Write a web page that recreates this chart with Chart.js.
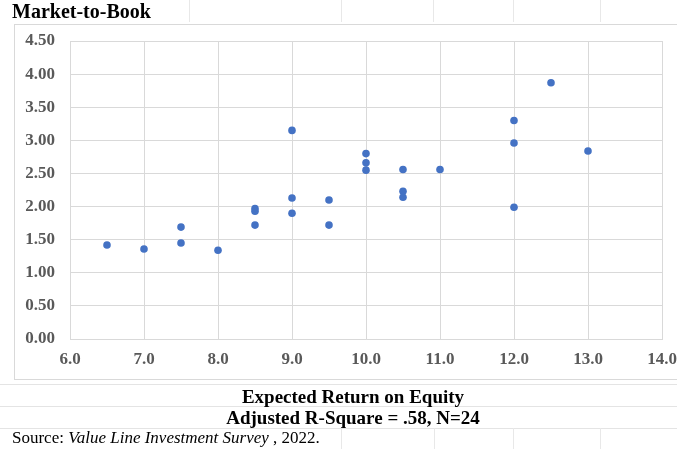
<!DOCTYPE html>
<html>
<head>
<meta charset="utf-8">
<script src="https://cdn.jsdelivr.net/npm/chart.js@4/dist/chart.umd.min.js"></script>
<style>
  body { margin: 0; background: #fff; width: 677px; height: 449px; overflow: hidden; position: relative; font-family: "Liberation Serif", serif; }
  .txt { position: absolute; white-space: nowrap; color: #000; }
  .hl { position: absolute; height: 1px; background: #e4e4e4; }
  .vl { position: absolute; width: 1px; background: #e8e8e8; }
  #box { position: absolute; left: 14px; top: 24px; width: 680px; height: 354px; border: 1px solid #d9d9d9; }
  #c { position: absolute; left: 0; top: 0; }
</style>
</head>
<body>
<!-- faint spreadsheet cell lines -->
<div class="vl" style="left:189px;top:0;height:22px"></div>
<div class="vl" style="left:341px;top:0;height:22px"></div>
<div class="vl" style="left:433px;top:0;height:22px"></div>
<div class="vl" style="left:513px;top:0;height:22px"></div>
<div class="vl" style="left:600px;top:0;height:22px"></div>
<div class="hl" style="left:0;top:384px;width:677px"></div>
<div class="hl" style="left:0;top:406px;width:677px"></div>
<div class="hl" style="left:0;top:428px;width:677px"></div>
<div class="vl" style="left:341px;top:428px;height:21px"></div>
<div class="vl" style="left:434px;top:428px;height:21px"></div>
<div class="vl" style="left:513px;top:428px;height:21px"></div>
<div class="vl" style="left:600px;top:428px;height:21px"></div>

<div id="box"></div>
<canvas id="c" width="677" height="449"></canvas>

<div class="txt" style="left:12px;top:0px;font-size:20px;font-weight:bold;">Market-to-Book</div>
<div class="txt" style="left:0;width:706px;text-align:center;top:386px;font-size:19px;font-weight:bold;">Expected Return on Equity</div>
<div class="txt" style="left:0;width:706px;text-align:center;top:407px;font-size:19px;font-weight:bold;">Adjusted R-Square = .58, N=24</div>
<div class="txt" style="left:12px;top:428px;font-size:17px;">Source: <i>Value Line Investment Survey</i> , 2022.</div>

<script>
// expected return on equity (x) vs market-to-book (y)
const roe = [6.5, 7.0, 7.5, 7.5, 8.0, 8.5, 8.5, 8.5, 9.0, 9.0, 9.0, 9.5, 9.5,
             10.0, 10.0, 10.0, 10.5, 10.5, 10.5, 11.0, 12.0, 12.0, 12.0, 12.5, 13.0];
const mtb = [1.42, 1.36, 1.69, 1.45, 1.34, 1.97, 1.93, 1.72, 3.15, 2.13, 1.90, 2.10, 1.72,
             2.80, 2.66, 2.55, 2.56, 2.23, 2.14, 2.56, 3.30, 2.96, 1.99, 3.87, 2.84];

const xMin = 6, xMax = 14, xStep = 1;
const yMin = 0, yMax = 4.5, yStep = 0.5;

let points = roe.map((x, i) => ({x: x, y: mtb[i]}));

const tickFont = {family: "Liberation Serif", size: 17, weight: "bold"};
const gridColor = "#d9d9d9";

new Chart(document.getElementById("c"), {
  type: "scatter",
  data: {
    datasets: [{
      data: points,
      backgroundColor: "#4472C4",
      borderColor: "#4472C4",
      pointRadius: 3.8,
      pointBorderWidth: 0
    }]
  },
  options: {
    responsive: false,
    animation: false,
    layout: {padding: {top: 41, right: 15, left: 0, bottom: 0}},
    plugins: {legend: {display: false}, tooltip: {enabled: false}},
    scales: {
      x: {
        min: xMin, max: xMax,
        ticks: {stepSize: xStep, font: tickFont, color: "#595959", padding: 10,
                maxRotation: 0, callback: v => v.toFixed(1)},
        grid: {color: gridColor, drawTicks: false, lineWidth: 1},
        border: {color: gridColor},
        afterFit: s => { s.height = 110; s.paddingLeft = 0; s.paddingRight = 0; }
      },
      y: {
        min: yMin, max: yMax,
        ticks: {stepSize: yStep, font: tickFont, color: "#595959", padding: 15,
                callback: v => v.toFixed(2)},
        grid: {color: gridColor, drawTicks: false, lineWidth: 1},
        border: {color: gridColor},
        afterFit: s => { s.width = 70; s.paddingTop = 0; s.paddingBottom = 0; }
      }
    }
  }
});
</script>
</body>
</html>
